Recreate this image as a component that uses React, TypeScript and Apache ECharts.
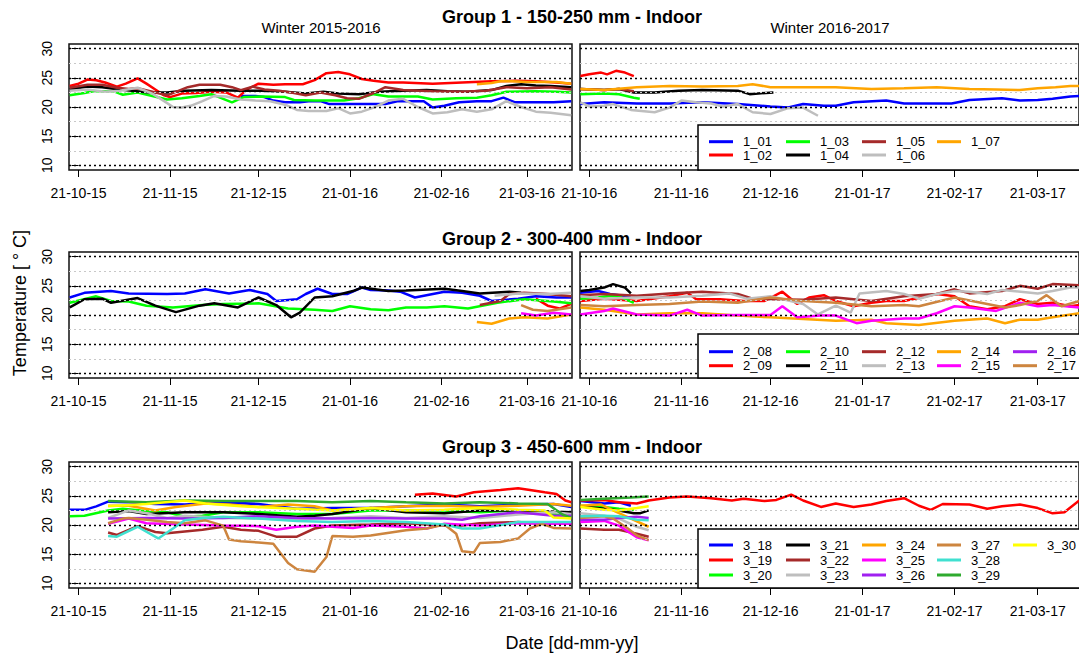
import React, { useEffect, useRef } from 'react';
import * as echarts from 'echarts';

// ---------- axis ticks ----------
const LEFT_TICK_DAYS = [0, 31, 61, 92, 123, 152]; // days since 21-10-2015
const LEFT_TICK_LABELS = ['21-10-15', '21-11-15', '21-12-15', '21-01-16', '21-02-16', '21-03-16'];
const RIGHT_TICK_DAYS = [0, 31, 61, 92, 123, 151]; // days since 21-10-2016
const RIGHT_TICK_LABELS = ['21-10-16', '21-11-16', '21-12-16', '21-01-17', '21-02-17', '21-03-17'];
const Y_TICKS = [10, 15, 20, 25, 30];
const Y_MINOR = [12.5, 17.5, 22.5, 27.5];

// ---------- series names & colours ----------
const G1_NAMES = ['1_01', '1_02', '1_03', '1_04', '1_05', '1_06', '1_07'];
const G1_COLORS = ['#0000FF', '#FF0000', '#00FF00', '#000000', '#A52A2A', '#BEBEBE', '#FFA500'];
const G2_NAMES = ['2_08', '2_09', '2_10', '2_11', '2_12', '2_13', '2_14', '2_15', '2_16', '2_17'];
const G2_COLORS = ['#0000FF', '#FF0000', '#00FF00', '#000000', '#A52A2A', '#BEBEBE', '#FFA500', '#FF00FF', '#A020F0', '#CD853F'];
const G3_NAMES = ['3_18', '3_19', '3_20', '3_21', '3_22', '3_23', '3_24', '3_25', '3_26', '3_27', '3_28', '3_29', '3_30'];
const G3_COLORS = ['#0000FF', '#FF0000', '#00FF00', '#000000', '#A52A2A', '#BEBEBE', '#FFA500', '#FF00FF', '#A020F0', '#CD853F', '#40E0D0', '#2EAA2E', '#FFFF00'];

// ---------- Group 1, winter 2015-2016 ([day, °C]) ----------
const g1L_01 = [[55,21.9],[60,21.9],[63,21.7],[66,21.1],[70,20.8],[75,20.8],[78,21.0],[82,21.0],[85,20.5],[94,20.5],[100,20.5],[104,20.5],[108,21.0],[113,21.0],[117,21.0],[120,19.9],[124,20.2],[129,20.8],[135,21.0],[140,21.0],[144,21.6],[148,20.8],[155,20.8],[161,20.8],[167,21.0]];
const g1L_02 = [[-3,23.6],[0,24.0],[3,24.7],[6,24.6],[9,24.2],[13,23.5],[16,24.0],[20,24.9],[23,24.0],[26,23.0],[29,22.0],[31,21.7],[35,22.3],[40,22.4],[45,22.6],[50,22.5],[54,21.6],[57,23.0],[61,24.0],[66,23.8],[70,23.9],[76,23.9],[80,24.6],[84,25.8],[88,26.0],[92,25.6],[96,24.8],[100,24.5],[105,24.2],[110,24.2],[120,24.0],[130,24.2],[140,24.4],[148,24.5],[155,24.4],[162,24.2],[167,24.0]];
const g1L_03 = [[-3,22.0],[2,22.4],[5,22.7],[12,22.7],[15,22.1],[20,22.5],[25,21.9],[30,21.3],[35,21.5],[41,21.9],[45,22.2],[49,21.4],[52,20.8],[56,21.7],[62,21.8],[70,21.7],[73,21.2],[80,21.1],[90,21.1],[95,21.5],[100,22.2],[105,21.8],[115,21.8],[120,21.3],[128,21.5],[135,21.6],[140,22.0],[145,22.6],[155,22.7],[162,22.6],[167,22.5]];
const g1L_04 = [[-3,23.0],[3,23.5],[8,23.4],[14,23.0],[18,22.8],[24,22.5],[30,22.5],[36,22.8],[45,22.9],[55,22.8],[62,22.8],[70,22.6],[77,22.3],[83,22.6],[88,22.3],[95,22.2],[102,22.6],[110,22.8],[118,22.9],[125,22.7],[132,22.6],[140,22.9],[145,23.6],[150,23.9],[155,23.7],[160,23.6],[167,23.4]];
const g1L_05 = [[-3,23.3],[3,23.8],[8,23.8],[13,23.3],[17,23.1],[20,23.2],[25,22.6],[30,22.0],[33,22.6],[37,23.4],[41,23.8],[48,23.8],[52,23.4],[55,22.9],[59,23.5],[63,23.0],[68,22.8],[73,22.4],[77,22.0],[82,22.5],[87,22.0],[91,21.5],[95,21.4],[100,22.4],[104,23.4],[110,22.9],[120,22.7],[130,22.6],[138,22.8],[145,23.4],[152,23.2],[160,23.4],[167,23.0]];
const g1L_06 = [[-3,22.8],[3,23.0],[9,22.6],[14,22.8],[20,23.3],[25,22.3],[29,21.0],[32,20.0],[35,19.9],[38,20.2],[42,21.0],[46,21.9],[50,21.8],[55,21.3],[60,21.1],[65,21.0],[70,20.4],[74,19.5],[78,19.3],[84,19.3],[88,19.8],[92,18.9],[96,19.2],[100,19.9],[105,21.1],[110,21.4],[115,20.0],[120,18.9],[125,19.1],[130,19.6],[135,19.2],[140,19.6],[145,21.0],[150,20.0],[155,19.2],[160,19.0],[167,18.6]];
const g1L_07 = [[135,23.9],[140,24.1],[143,24.4],[147,24.4],[152,24.3],[157,24.3],[162,24.3],[167,24.0]];

// ---------- Group 1, winter 2016-2017 ----------
const g1R_01 = [[-3,20.5],[5,20.8],[16,20.6],[27,20.6],[38,20.8],[50,20.5],[61,20.1],[67,19.9],[72,20.5],[79,20.2],[83,20.2],[89,20.8],[100,21.1],[106,20.6],[122,20.6],[128,21.2],[139,21.5],[145,21.1],[151,21.2],[156,21.4],[162,21.8],[165,21.9]];
const g1R_02 = [[-3,25.3],[0,25.6],[4,25.9],[6,25.6],[9,26.2],[12,25.9],[15,25.3]];
const g1R_03 = [[-3,22.2],[5,22.3],[10,22.2],[15,21.6],[17,21.4]];
const g1R_04 = [[-3,23.1],[5,22.9],[10,23.1],[15,22.5],[22,22.5],[30,22.8],[38,22.9],[50,22.8],[54,22.2],[62,22.5]];
const g1R_05 = [[-3,23.1],[5,22.9],[10,23.1],[15,22.7]];
const g1R_06 = [[-3,20.8],[0,20.1],[5,20.2],[8,20.5],[14,19.5],[22,19.1],[27,19.9],[31,21.1],[36,20.8],[41,20.6],[45,20.1],[50,20.5],[55,19.1],[61,18.8],[67,19.8],[72,19.9],[77,18.5]];
const g1R_07 = [[-3,23.1],[5,22.9],[16,23.4],[27,23.6],[38,23.5],[50,23.6],[55,23.9],[61,23.4],[72,23.4],[83,23.4],[95,23.1],[106,23.2],[117,23.4],[128,23.1],[137,23.0],[145,22.9],[151,23.2],[157,23.4],[162,23.6],[165,23.6]];

// ---------- Group 2, winter 2015-2016 ----------
const g2L_08 = [[-3,23.0],[2,23.8],[11,24.1],[17,23.7],[30,23.6],[36,23.7],[43,24.4],[51,23.7],[58,24.3],[64,23.6],[67,22.4],[74,22.7],[77,23.6],[81,24.5],[86,23.6],[91,23.6],[96,24.7],[99,24.3],[105,24.2],[109,24.0],[114,23.0],[124,24.0],[130,23.8],[136,23.3],[140,22.4],[149,22.8],[155,23.2],[162,23.0],[167,23.0]];
const g2L_09 = [[155,22.8],[159,21.6],[163,21.1],[167,21.9]];
const g2L_10 = [[-3,22.1],[6,23.2],[11,22.4],[17,22.3],[23,21.6],[32,21.3],[42,21.7],[49,21.9],[61,22.0],[71,21.1],[80,20.9],[86,20.7],[92,21.5],[99,21.0],[105,20.8],[111,21.3],[118,21.3],[124,21.5],[132,21.1],[142,22.1],[151,22.7],[161,22.3],[167,22.0]];
const g2L_11 = [[-3,21.3],[2,22.7],[8,22.8],[11,22.1],[20,22.9],[26,21.6],[33,20.5],[41,21.6],[46,22.0],[54,21.3],[61,23.0],[67,21.7],[72,19.6],[75,20.4],[80,23.0],[86,23.2],[93,24.1],[96,24.7],[105,24.1],[111,24.2],[124,24.5],[130,24.1],[136,23.7],[146,24.0],[150,23.8]];
const g2L_12 = [[136,21.7],[143,22.4],[146,23.6],[151,23.8],[159,23.6],[167,23.2]];
const g2L_13 = [[141,23.3],[149,23.7],[159,23.6],[167,23.8]];
const g2L_14 = [[135,18.8],[140,18.5],[146,19.4],[151,19.6],[159,19.4],[167,20.1]];
const g2L_15 = [[150,20.3],[155,19.9],[161,20.4],[167,20.1]];
const g2L_16: number[][] = [];
const g2L_17 = [[150,21.7],[154,20.9],[159,20.7],[167,21.3]];

// ---------- Group 2, winter 2016-2017 ----------
const g2R_08 = [[-3,23.8],[3,24.1],[7,23.6],[10,23.4],[14,23.0]];
const g2R_09 = [[-3,22.4],[5,22.8],[16,22.4],[27,23.2],[33,23.8],[36,22.7],[44,22.7],[52,22.4],[59,22.4],[65,24.0],[70,21.9],[74,23.0],[79,23.4],[83,22.4],[89,21.5],[95,22.1],[100,22.4],[106,22.4],[117,23.6],[123,23.2],[128,21.5],[134,21.0],[140,21.5],[145,22.7],[151,21.9],[156,22.1],[162,21.5],[165,21.7]];
const g2R_10 = [[-3,22.8],[3,23.0],[7,23.3],[10,23.2],[15,22.1]];
const g2R_11 = [[-3,24.1],[0,24.3],[5,24.7],[8,25.3],[12,24.7],[14,23.7]];
const g2R_12 = [[-3,23.4],[5,23.6],[16,23.3],[27,23.7],[38,24.0],[50,23.6],[55,22.8],[61,22.7],[72,22.6],[83,23.0],[95,22.4],[106,23.2],[117,23.6],[123,24.4],[128,23.7],[139,24.1],[145,25.0],[151,24.5],[156,25.3],[165,25.1]];
const g2R_13 = [[-3,23.2],[5,22.8],[16,23.0],[27,23.0],[38,23.3],[47,23.7],[53,22.8],[61,23.2],[72,21.9],[77,20.1],[83,21.6],[88,20.4],[91,23.7],[100,24.1],[106,23.6],[111,22.8],[117,23.6],[123,24.1],[128,24.0],[134,23.6],[139,24.3],[151,23.7],[156,24.1],[162,24.7],[165,24.7]];
const g2R_14 = [[-3,21.3],[5,20.9],[16,20.1],[27,20.3],[38,20.3],[50,19.9],[61,19.6],[72,19.3],[83,19.0],[95,19.2],[100,18.6],[111,18.3],[123,19.0],[134,19.4],[140,18.6],[145,19.2],[151,19.2],[156,19.6],[165,20.3]];
const g2R_15 = [[-3,20.1],[5,20.7],[8,21.1],[16,20.1],[27,19.9],[33,20.9],[38,19.9],[50,20.0],[61,20.0],[65,21.5],[70,19.6],[78,19.9],[83,19.9],[90,18.6],[95,19.0],[106,19.4],[111,19.4],[117,20.3],[123,21.5],[128,21.3],[137,20.7],[145,22.1],[151,21.5],[156,21.7],[165,21.3]];
const g2R_16: number[][] = [];
const g2R_17 = [[-3,21.7],[5,21.5],[16,21.7],[27,21.9],[38,22.3],[50,22.1],[61,23.0],[72,22.4],[83,22.1],[95,21.5],[106,21.7],[111,21.5],[123,23.0],[134,21.9],[140,21.3],[145,21.7],[151,22.4],[154,23.4],[159,21.5],[165,22.4]];

// ---------- Group 3, winter 2015-2016 ----------
const g3L_18 = [[-3,22.6],[2,22.6],[6,23.2],[10,24.0],[17,23.9],[26,23.6],[36,23.5],[49,23.9],[61,23.6],[74,22.8],[86,22.9],[99,22.9],[111,23.2],[124,23.5],[136,23.2],[149,23.5],[161,23.6],[167,23.1]];
const g3L_19 = [[114,25.2],[120,25.4],[128,24.9],[134,25.6],[143,26.0],[149,26.3],[153,26.0],[158,25.6],[162,25.3],[165,24.2],[167,23.9]];
const g3L_20 = [[-3,21.5],[2,21.6],[10,22.5],[15,22.8],[21,22.5],[30,22.2],[36,21.4],[42,21.6],[49,22.2],[61,22.2],[74,21.9],[86,21.9],[99,22.5],[124,22.5],[136,22.2],[149,22.5],[161,21.9],[167,21.4]];
const g3L_21 = [[10,22.2],[17,22.4],[23,21.9],[36,22.2],[49,22.2],[61,21.9],[74,21.4],[80,21.6],[86,21.9],[99,22.9],[111,22.2],[124,22.0],[136,22.5],[149,22.5],[167,22.2]];
const g3L_22 = [[10,18.7],[13,18.3],[20,19.8],[26,18.8],[30,18.6],[36,18.9],[42,19.2],[49,19.7],[55,19.2],[61,19.0],[67,18.0],[74,18.0],[80,19.4],[86,19.9],[99,20.1],[111,20.3],[124,19.9],[130,19.9],[136,20.3],[149,20.5],[155,20.3],[167,20.2]];
const g3L_23 = [[10,21.2],[17,22.5],[23,22.0],[30,21.2],[36,21.6],[49,21.2],[61,21.1],[74,20.9],[80,21.1],[86,21.2],[99,21.5],[111,21.2],[124,21.5],[136,21.2],[149,21.8],[161,22.2],[167,21.9]];
const g3L_24 = [[10,23.3],[17,23.3],[26,22.5],[33,23.1],[43,23.7],[51,23.5],[61,23.1],[71,23.5],[80,23.2],[86,22.5],[99,22.9],[111,23.2],[124,23.3],[136,23.1],[149,23.3],[161,23.6],[167,23.3]];
const g3L_25 = [[10,20.2],[17,21.1],[23,20.3],[36,20.1],[49,19.9],[61,19.8],[67,19.2],[74,19.7],[80,19.9],[86,19.7],[93,19.5],[99,19.9],[111,19.7],[118,19.4],[124,20.2],[136,19.9],[149,20.3],[161,20.2],[167,20.2]];
const g3L_26 = [[10,21.1],[23,21.2],[36,21.1],[49,21.2],[61,21.5],[74,21.2],[86,21.1],[99,21.2],[111,21.1],[124,21.1],[130,20.9],[136,21.5],[149,22.2],[155,21.9],[161,21.6],[167,21.6]];
const g3L_27 = [[10,20.3],[15,21.1],[17,21.2],[23,20.9],[30,20.5],[36,20.3],[43,20.8],[49,19.9],[51,17.5],[55,17.2],[61,17.0],[66,16.8],[71,13.5],[74,12.4],[80,12.0],[84,14.5],[86,18.1],[93,18.0],[99,18.2],[111,19.1],[118,19.4],[124,20.1],[128,18.5],[130,15.5],[134,15.3],[136,16.9],[143,17.1],[149,17.7],[153,19.4],[157,20.2],[161,19.5],[167,19.4]];
const g3L_28 = [[10,18.1],[13,18.0],[20,19.7],[27,17.7],[32,19.4],[36,20.8],[42,21.2],[49,21.4],[61,21.1],[74,20.7],[86,20.5],[99,20.7],[111,20.5],[124,20.1],[130,19.4],[136,19.4],[149,20.5],[161,20.5],[167,20.5]];
const g3L_29 = [[10,24.1],[23,23.9],[36,24.2],[49,24.1],[61,24.1],[74,24.1],[86,23.9],[99,24.1],[111,23.9],[124,23.7],[136,23.9],[149,23.7],[159,23.6],[164,21.8],[167,21.2]];
const g3L_30 = [[10,23.2],[23,23.6],[36,24.2],[43,23.7],[55,23.2],[74,22.8],[86,22.5],[99,22.9],[111,22.5],[124,22.6],[136,22.9],[149,22.6],[158,22.5],[161,21.3],[167,21.1]];

// ---------- Group 3, winter 2016-2017 ----------
const g3R_18 = [[-3,24.1],[5,23.7],[10,23.9],[14,23.3]];
const g3R_19 = [[-3,24.2],[5,24.3],[10,23.9],[16,23.7],[20,24.2],[27,24.7],[33,24.9],[41,24.6],[48,24.2],[52,24.5],[59,24.1],[63,24.3],[68,25.2],[72,24.2],[78,23.1],[83,23.7],[89,23.1],[95,23.5],[100,24.1],[106,24.6],[111,23.3],[115,22.6],[119,23.6],[128,23.5],[134,22.8],[139,23.2],[145,23.5],[151,22.9],[156,22.0],[160,22.2],[165,24.2]];
const g3R_20 = [[-3,23.3],[5,23.1],[10,22.8],[15,22.6]];
const g3R_21 = [[-3,23.2],[5,22.8],[10,22.5],[15,22.0],[17,22.0],[20,22.5]];
const g3R_22 = [[-3,19.4],[5,19.2],[10,19.2],[16,18.5],[20,18.0]];
const g3R_23 = [[-3,22.0],[5,21.6],[10,21.1],[16,19.7],[20,19.1]];
const g3R_24 = [[-3,23.3],[4,23.5],[8,22.5],[14,21.1],[20,19.7]];
const g3R_25 = [[-3,20.5],[5,20.7],[10,19.9],[16,17.9],[20,17.4]];
const g3R_26 = [[-3,20.9],[5,20.9],[10,21.2],[16,21.4],[20,21.2]];
const g3R_27 = [[-3,21.2],[5,21.5],[8,21.1],[13,19.4],[16,18.2],[20,17.4]];
const g3R_28 = [[-3,21.5],[5,21.6],[10,21.5],[16,20.9],[20,20.8]];
const g3R_29 = [[-3,24.3],[5,24.5],[14,24.7],[20,24.9]];
const g3R_30 = [[-3,23.1],[5,22.6],[10,22.5],[16,22.9],[20,23.2]];

const GROUPS = [
  {
    title: 'Group 1 - 150-250 mm - Indoor',
    names: G1_NAMES, colors: G1_COLORS,
    left: [g1L_01, g1L_02, g1L_03, g1L_04, g1L_05, g1L_06, g1L_07],
    right: [g1R_01, g1R_02, g1R_03, g1R_04, g1R_05, g1R_06, g1R_07],
  },
  {
    title: 'Group 2 - 300-400 mm - Indoor',
    names: G2_NAMES, colors: G2_COLORS,
    left: [g2L_08, g2L_09, g2L_10, g2L_11, g2L_12, g2L_13, g2L_14, g2L_15, g2L_16, g2L_17],
    right: [g2R_08, g2R_09, g2R_10, g2R_11, g2R_12, g2R_13, g2R_14, g2R_15, g2R_16, g2R_17],
  },
  {
    title: 'Group 3 - 450-600 mm - Indoor',
    names: G3_NAMES, colors: G3_COLORS,
    left: [g3L_18, g3L_19, g3L_20, g3L_21, g3L_22, g3L_23, g3L_24, g3L_25, g3L_26, g3L_27, g3L_28, g3L_29, g3L_30],
    right: [g3R_18, g3R_19, g3R_20, g3R_21, g3R_22, g3R_23, g3R_24, g3R_25, g3R_26, g3R_27, g3R_28, g3R_29, g3R_30],
  },
];

// ---------- layout ----------
const FONT = '"Liberation Sans", Arial, Helvetica, sans-serif';
const ROW_TOPS = [44, 252, 462];
const ROW_H = 126;
const LEFT_X = 69, LEFT_W = 503;
const RIGHT_X = 580, RIGHT_W = 499;
const TITLE_Y = [17, 239, 447];
const LEGEND_ROWS = [2, 2, 3];
const LEGEND_COL_X = [709, 786, 862, 937, 1013];
const LEGEND_BOX_TOP = [125, 334, 529];
const LEGEND_LINE_H = [13.3, 14, 15];
const LEGEND_FIRST_CENTER = [141.7, 351.7, 545];

function buildOption() {
  const grids: any[] = [];
  const xAxes: any[] = [];
  const yAxes: any[] = [];
  const series: any[] = [];
  const legends: any[] = [];
  const graphics: any[] = [];

  const gridLines = {
    silent: true,
    symbol: ['none', 'none'],
    label: { show: false },
    emphasis: { disabled: true },
    data: [
      ...Y_TICKS.map((v) => ({ yAxis: v, lineStyle: { color: '#000', type: [2, 3], width: 1.4 } })),
      ...Y_MINOR.map((v) => ({ yAxis: v, lineStyle: { color: '#C8C8C8', type: [2, 3], width: 1.2 } })),
    ],
  };

  GROUPS.forEach((g, r) => {
    ['L', 'R'].forEach((side) => {
      const idx = grids.length;
      const isLeft = side === 'L';
      grids.push({
        left: isLeft ? LEFT_X : RIGHT_X,
        top: ROW_TOPS[r],
        width: isLeft ? LEFT_W : RIGHT_W,
        height: ROW_H,
        show: true,
        borderColor: '#111',
        borderWidth: 1.5,
        backgroundColor: 'transparent',
        containLabel: false,
      });
      const days = isLeft ? LEFT_TICK_DAYS : RIGHT_TICK_DAYS;
      const labels = isLeft ? LEFT_TICK_LABELS : RIGHT_TICK_LABELS;
      xAxes.push({
        type: 'value',
        gridIndex: idx,
        min: isLeft ? -3.25 : -3.13,
        max: isLeft ? 167.25 : 164.9,
        axisLine: { show: false },
        splitLine: { show: false },
        axisTick: { show: true, inside: false, length: 7, customValues: days, lineStyle: { color: '#000', width: 1 } },
        axisLabel: {
          show: true,
          customValues: days,
          formatter: (v: number) => {
            const i = days.findIndex((d) => Math.abs(d - v) < 0.01);
            return i >= 0 ? labels[i] : '';
          },
          fontSize: 14,
          color: '#000',
          fontFamily: FONT,
          margin: 16,
        },
      });
      yAxes.push({
        type: 'value',
        gridIndex: idx,
        min: 9.2,
        max: 30.8,
        axisLine: { show: false },
        splitLine: { show: false },
        axisTick: { show: isLeft, inside: false, length: 7, customValues: Y_TICKS, lineStyle: { color: '#000', width: 1 } },
        axisLabel: {
          show: isLeft,
          customValues: Y_TICKS,
          rotate: 90,
          fontSize: 14,
          color: '#000',
          fontFamily: FONT,
          margin: 15,
        },
      });
      const dataSets = isLeft ? g.left : g.right;
      g.names.forEach((name, k) => {
        series.push({
          type: 'line',
          name,
          xAxisIndex: idx,
          yAxisIndex: idx,
          data: dataSets[k],
          showSymbol: false,
          symbol: 'none',
          smooth: false,
          lineStyle: { color: g.colors[k], width: 2.5 },
          itemStyle: { color: g.colors[k] },
          emphasis: { disabled: true },
          markLine: k === 0 ? gridLines : undefined,
        });
      });
    });

    // legend: column-major, one legend component per column
    const rows = LEGEND_ROWS[r];
    const nCols = Math.ceil(g.names.length / rows);
    const lh = LEGEND_LINE_H[r];
    for (let c = 0; c < nCols; c++) {
      legends.push({
        orient: 'vertical',
        left: LEGEND_COL_X[c],
        top: LEGEND_FIRST_CENTER[r] - lh / 2,
        padding: 0,
        itemGap: 0,
        itemWidth: 24,
        itemHeight: 3,
        icon: 'rect',
        selectedMode: false,
        data: g.names.slice(c * rows, c * rows + rows),
        textStyle: { fontSize: 13, color: '#000', fontFamily: FONT, lineHeight: lh, padding: [0, 0, 0, 5] },
        z: 20,
      });
    }
    graphics.push({
      type: 'rect',
      shape: { x: 698, y: LEGEND_BOX_TOP[r], width: 400, height: ROW_TOPS[r] + ROW_H - LEGEND_BOX_TOP[r] },
      style: { fill: '#fff', stroke: '#000', lineWidth: 1.5 },
      z: 10,
    });
    graphics.push({
      type: 'text',
      x: 572,
      y: TITLE_Y[r],
      style: { text: g.title, font: `bold 18px ${FONT}`, fill: '#000', textAlign: 'center', textVerticalAlign: 'middle', verticalAlign: 'middle' },
      z: 10,
    });
  });

  graphics.push(
    {
      type: 'text', x: 321, y: 27,
      style: { text: 'Winter 2015-2016', font: `15px ${FONT}`, fill: '#000', textAlign: 'center', textVerticalAlign: 'middle', verticalAlign: 'middle' },
    },
    {
      type: 'text', x: 830, y: 27,
      style: { text: 'Winter 2016-2017', font: `15px ${FONT}`, fill: '#000', textAlign: 'center', textVerticalAlign: 'middle', verticalAlign: 'middle' },
    },
    {
      type: 'text', x: 20, y: 303, rotation: Math.PI / 2,
      style: { text: 'Temperature [ \u00B0 C]', font: `18px ${FONT}`, fill: '#000', textAlign: 'center', textVerticalAlign: 'middle', verticalAlign: 'middle' },
    },
    {
      type: 'text', x: 572, y: 643,
      style: { text: 'Date [dd-mm-yy]', font: `18px ${FONT}`, fill: '#000', textAlign: 'center', textVerticalAlign: 'middle', verticalAlign: 'middle' },
    }
  );

  return {
    animation: false,
    backgroundColor: '#fff',
    textStyle: { fontFamily: FONT },
    grid: grids,
    xAxis: xAxes,
    yAxis: yAxes,
    legend: legends,
    series,
    graphic: { elements: graphics },
  };
}

export default function App() {
  const ref = useRef<HTMLDivElement>(null);
  useEffect(() => {
    if (!ref.current) return;
    const chart = echarts.init(ref.current, undefined, { renderer: 'svg' });
    chart.setOption(buildOption() as any);
    return () => chart.dispose();
  }, []);
  return (
    <div
      ref={ref}
      style={{ position: 'absolute', left: 0, top: 0, width: 1079, height: 659, background: '#fff' }}
    />
  );
}
